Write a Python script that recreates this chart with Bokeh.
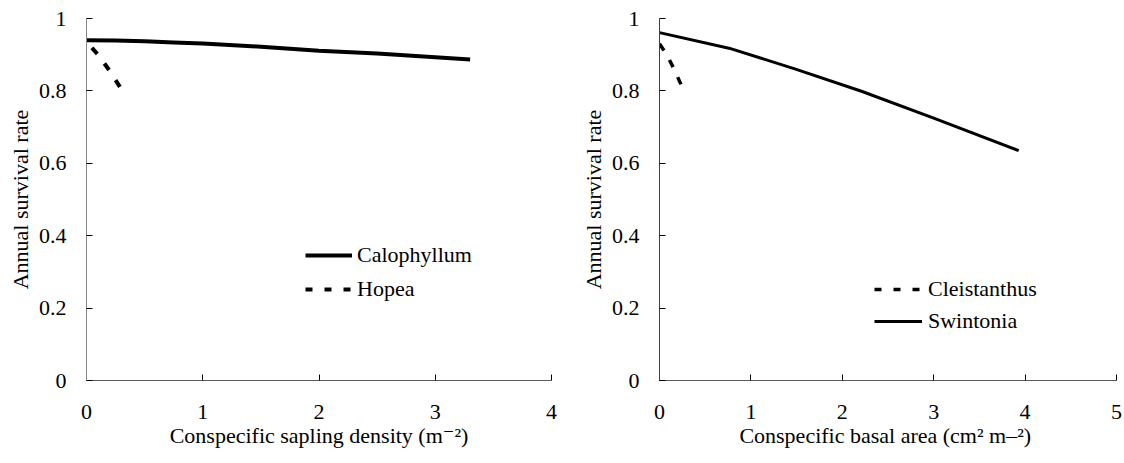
from bokeh.plotting import figure
from bokeh.layouts import row
from bokeh.models import Range1d, FixedTicker, Legend, LegendItem
from bokeh.embed import file_html
from bokeh.resources import INLINE

# ---- data ----
calo_x = [0, 0.25, 0.5, 0.75, 1.0, 1.5, 2.0, 2.5, 3.3]
calo_y = [0.94, 0.939, 0.937, 0.934, 0.931, 0.922, 0.911, 0.903, 0.887]
hopea_x = [0, 0.1, 0.2, 0.29]
hopea_y = [0.935, 0.90, 0.855, 0.81]

cleis_x = [0, 0.08, 0.16, 0.24]
cleis_y = [0.93, 0.90, 0.86, 0.815]
swint_x = [0, 0.76, 1.48, 2.21, 3.0, 3.93]
swint_y = [0.961, 0.918, 0.861, 0.799, 0.725, 0.635]

y_ticks = [0, 0.2, 0.4, 0.6, 0.8, 1]
y_tick_labels = ["0", "0.2", "0.4", "0.6", "0.8", "1"]
x1_ticks = [0, 1, 2, 3, 4]
x2_ticks = [0, 1, 2, 3, 4, 5]

y_title = "Annual survival rate"
x1_title = "Conspecific sapling density (m\u207b\u00b2)"
x2_title = "Conspecific basal area  (cm\u00b2 m\u2013\u00b2)"

FONT = "'Liberation Serif', 'Times New Roman', 'DejaVu Serif', serif"
FS = "22px"
H = 460
NAN = float("nan")


def make_fig(width, bl, bt, br, frame_h, xmax, xticks, xtitle, ycolor):
    p = figure(width=width, height=H, output_backend="svg",
               toolbar_location=None, x_range=Range1d(0, xmax),
               y_range=Range1d(0, 1), min_border_left=bl, min_border_top=bt,
               min_border_right=br, min_border_bottom=H - bt - frame_h)
    p.outline_line_color = None
    p.xgrid.visible = False
    p.ygrid.visible = False
    p.background_fill_color = "white"
    p.border_fill_color = "white"
    for ax in (p.xaxis[0], p.yaxis[0]):
        ax.major_tick_in = 6
        ax.major_tick_out = 0
        ax.minor_tick_in = 0
        ax.minor_tick_out = 0
        ax.major_tick_line_color = "#000000"
        ax.major_label_text_font = FONT
        ax.major_label_text_font_size = FS
        ax.major_label_text_color = "#000000"
        ax.axis_label_text_font = FONT
        ax.axis_label_text_font_size = FS
        ax.axis_label_text_font_style = "normal"
        ax.axis_label_text_color = "#000000"
    p.xaxis.ticker = FixedTicker(ticks=xticks)
    p.xaxis.major_label_overrides = {t: str(t) for t in xticks}
    p.yaxis.ticker = FixedTicker(ticks=y_ticks)
    p.yaxis.major_label_overrides = dict(zip(y_ticks, y_tick_labels))
    p.xaxis.axis_line_color = "#595959"
    p.yaxis.axis_line_color = ycolor
    p.xaxis.major_label_standoff = 24
    p.yaxis.major_label_standoff = 20
    p.xaxis.axis_label_standoff = 1
    p.yaxis.axis_label_standoff = 3
    p.xaxis.axis_label = xtitle
    p.yaxis.axis_label = y_title
    return p


def style_legend(leg, spacing, standoff, gw):
    leg.background_fill_alpha = 0
    leg.border_line_alpha = 0
    leg.padding = 0
    leg.margin = 0
    leg.spacing = spacing
    leg.glyph_width = gw
    leg.glyph_height = 24
    leg.label_height = 24
    leg.label_standoff = standoff
    leg.label_text_font = FONT
    leg.label_text_font_size = FS
    leg.label_text_color = "#000000"


# left panel: frame from x=86 to 551, y=17 to 380
p1 = make_fig(577, 86, 17, 26, 363, 4, x1_ticks, x1_title, "#868686")
r_calo = p1.line(calo_x, calo_y, line_color="black", line_width=4)
p1.line(hopea_x, hopea_y, line_color="black", line_width=4,
        line_dash="8 12", line_dash_offset=12)
# style-only renderer (draws nothing) for the legend swatch
r_hopea_key = p1.line([NAN], [NAN], line_color="black", line_width=4,
                      line_dash="7 12")
leg1 = Legend(items=[LegendItem(label="Calophyllum", renderers=[r_calo]),
                     LegendItem(label="Hopea", renderers=[r_hopea_key])],
              location=(219, 78))
style_legend(leg1, 8, 5, 47)
p1.add_layout(leg1)

# right panel: frame from x=657 to 1116, y=18 to 380
p2 = make_fig(547, 80, 18, 8, 362, 5, x2_ticks, x2_title, "#404040")
p2.line(cleis_x, cleis_y, line_color="black", line_width=3.5,
        line_dash="8 11")
r_cleis_key = p2.line([NAN], [NAN], line_color="black", line_width=3.5,
                      line_dash="7 12")
r_swint = p2.line(swint_x, swint_y, line_color="black", line_width=3)
leg2 = Legend(items=[LegendItem(label="Cleistanthus", renderers=[r_cleis_key]),
                     LegendItem(label="Swintonia", renderers=[r_swint])],
              location=(215, 46))
style_legend(leg2, 6, 6, 48)
p2.add_layout(leg2)

layout = row(p1, p2)
open("out.html", "w").write(file_html(layout, INLINE))
